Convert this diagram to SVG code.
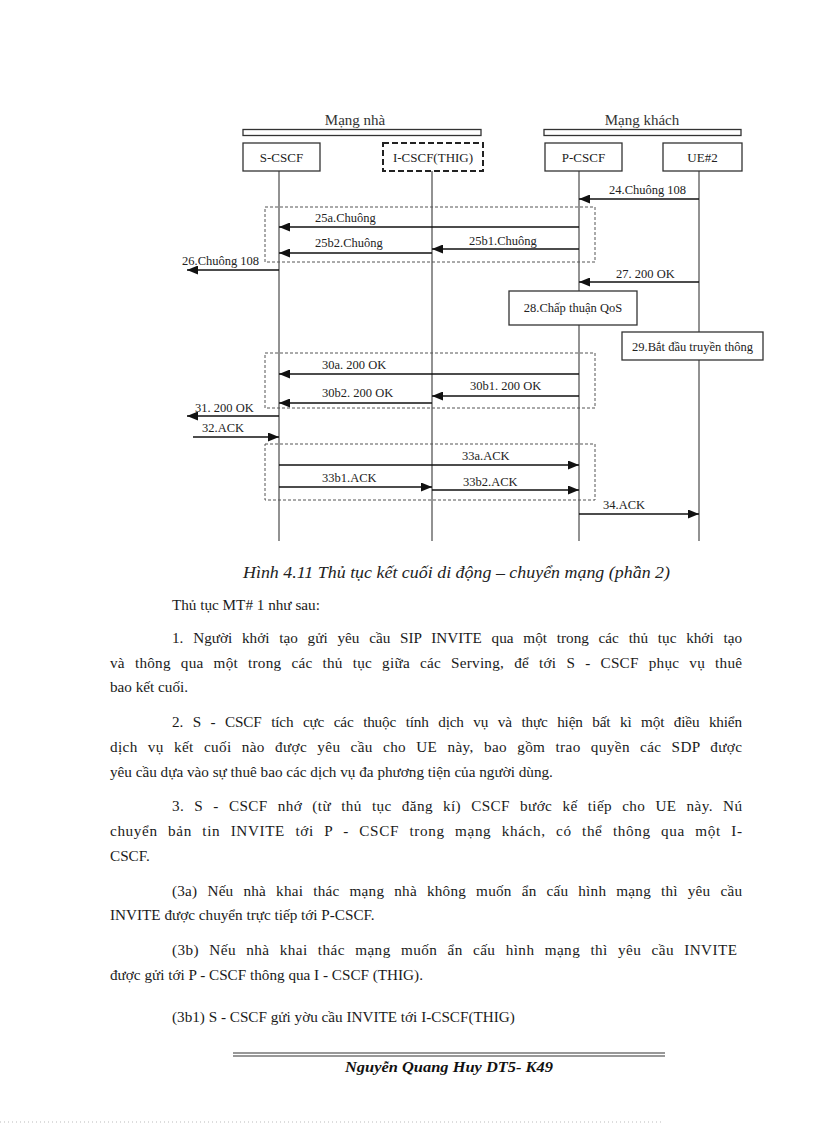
<svg xmlns="http://www.w3.org/2000/svg" width="816" height="1123" viewBox="0 0 816 1123">
<style>
.lbl{font-family:"Liberation Serif",serif;font-size:12.5px;fill:#222}
.hdr{font-family:"Liberation Serif",serif;font-size:15px;fill:#333}
.box{fill:#fff;stroke:#333;stroke-width:1.3}
.bar{fill:#fff;stroke:#333;stroke-width:1.3}
.life{stroke:#777;stroke-width:1.6;fill:none}
.msg{stroke:#111;stroke-width:1.3;fill:none;marker-end:url(#ah)}
.grp{fill:none;stroke:#555;stroke-width:1;stroke-dasharray:3,2}
.body{font-family:"Liberation Serif",serif;font-size:15.2px;fill:#1a1a1a}
.j{word-spacing:6px}
.cap{font-family:"Liberation Serif",serif;font-style:italic;font-size:16px;fill:#222}
.foot{font-family:"Liberation Serif",serif;font-style:italic;font-weight:bold;font-size:15px;fill:#111}
</style>
<defs>
<marker id="ah" markerUnits="userSpaceOnUse" markerWidth="11" markerHeight="9" refX="11" refY="4.5" orient="auto">
<path d="M0,0 L11,4.5 L0,9 z" fill="#111"/>
</marker>
</defs>
<rect width="816" height="1123" fill="#fff"/>

<g id="domains">
<text class="hdr" x="355" y="125" text-anchor="middle">Mạng nhà</text>
<rect class="bar" x="243" y="129.5" width="238" height="6"/>
<text class="hdr" x="642" y="125" text-anchor="middle">Mạng khách</text>
<rect class="bar" x="544" y="129.5" width="197" height="6"/>
</g>

<g id="lifelines">
<line class="life" x1="279" y1="171" x2="279" y2="541"/>
<line class="life" x1="432" y1="171" x2="432" y2="541"/>
<line class="life" x1="579" y1="171" x2="579" y2="541"/>
<line class="life" x1="699" y1="171" x2="699" y2="541"/>
</g>

<g id="S-CSCF">
<rect class="box" x="243" y="143" width="77" height="28"/>
<text class="lbl" x="281.5" y="161.5" text-anchor="middle" style="font-size:13px">S-CSCF</text>
</g>
<g id="I-CSCF">
<rect x="383" y="143" width="100" height="28" fill="#fff" stroke="#222" stroke-width="2" stroke-dasharray="6,3"/>
<text class="lbl" x="433" y="161.5" text-anchor="middle" style="font-size:13px">I-CSCF(THIG)</text>
</g>
<g id="P-CSCF">
<rect class="box" x="545" y="143" width="77" height="28"/>
<text class="lbl" x="583.5" y="161.5" text-anchor="middle" style="font-size:13px">P-CSCF</text>
</g>
<g id="UE2">
<rect class="box" x="663" y="143" width="79" height="28"/>
<text class="lbl" x="702.5" y="161.5" text-anchor="middle" style="font-size:13px">UE#2</text>
</g>

<g id="groups">
<rect class="grp" x="265" y="207" width="330" height="55"/>
<rect class="grp" x="265" y="353" width="330" height="55"/>
<rect class="grp" x="265" y="444" width="330" height="56"/>
</g>

<g id="connectors">
<line class="msg" x1="699" y1="199" x2="579" y2="199"/>
<line class="msg" x1="579" y1="227" x2="279" y2="227"/>
<line class="msg" x1="579" y1="249" x2="432" y2="249"/>
<line class="msg" x1="432" y1="253" x2="279" y2="253"/>
<line class="msg" x1="279" y1="270" x2="187" y2="270"/>
<line class="msg" x1="699" y1="282" x2="579" y2="282"/>
<line class="msg" x1="579" y1="374" x2="279" y2="374"/>
<line class="msg" x1="579" y1="396" x2="432" y2="396"/>
<line class="msg" x1="432" y1="403" x2="279" y2="403"/>
<line class="msg" x1="279" y1="416" x2="187" y2="416"/>
<line class="msg" x1="193" y1="437" x2="279" y2="437"/>
<line class="msg" x1="279" y1="465" x2="579" y2="465"/>
<line class="msg" x1="279" y1="487" x2="432" y2="487"/>
<line class="msg" x1="432" y1="490" x2="579" y2="490"/>
<line class="msg" x1="579" y1="514" x2="699" y2="514"/>
</g>

<g id="labels">
<text class="lbl" x="609" y="194">24.Chuông 108</text>
<text class="lbl" x="315" y="222">25a.Chuông</text>
<text class="lbl" x="469" y="245">25b1.Chuông</text>
<text class="lbl" x="315" y="247">25b2.Chuông</text>
<text class="lbl" x="182" y="265">26.Chuông 108</text>
<text class="lbl" x="616" y="278">27. 200 OK</text>
<text class="lbl" x="322" y="369">30a. 200 OK</text>
<text class="lbl" x="470" y="390">30b1. 200 OK</text>
<text class="lbl" x="322" y="397">30b2. 200 OK</text>
<text class="lbl" x="195" y="412">31. 200 OK</text>
<text class="lbl" x="202" y="432">32.ACK</text>
<text class="lbl" x="462" y="460">33a.ACK</text>
<text class="lbl" x="322" y="482">33b1.ACK</text>
<text class="lbl" x="463" y="486">33b2.ACK</text>
<text class="lbl" x="603" y="509">34.ACK</text>
</g>

<g id="QoS">
<rect class="box" x="509" y="291" width="128" height="34"/>
<text class="lbl" x="573" y="312" text-anchor="middle">28.Chấp thuận QoS</text>
</g>
<g id="media">
<rect class="box" x="622" y="332" width="141" height="28"/>
<text class="lbl" x="692.5" y="350.5" text-anchor="middle">29.Bắt đầu truyền thông</text>
</g>

<text class="cap" x="243" y="578" textLength="427" lengthAdjust="spacingAndGlyphs">Hình 4.11  Thủ tục kết cuối di động – chuyển mạng (phần 2)</text>

<g id="bodytext">
<text class="body" x="172" y="610">Thủ  tục MT# 1 như sau:</text>
<text class="body j" x="172" y="643" textLength="570" lengthAdjust="spacing">1.  Người khởi tạo gửi yêu cầu SIP INVITE  qua một trong các thủ tục khởi tạo</text>
<text class="body j" x="110" y="668" textLength="632" lengthAdjust="spacing">và thông qua một trong các thủ tục giữa các Serving, để tới S - CSCF phục vụ thuê</text>
<text class="body" x="110" y="692">bao kết cuối.</text>
<text class="body j" x="172" y="727" textLength="570" lengthAdjust="spacing">2.  S - CSCF tích cực các thuộc tính dịch vụ và thực hiện bất kì một điều khiển</text>
<text class="body j" x="110" y="752" textLength="632" lengthAdjust="spacing">dịch vụ kết cuối nào được yêu cầu cho UE này, bao gồm trao quyền các SDP được</text>
<text class="body" x="110" y="777">yêu cầu dựa vào sự thuê bao các dịch vụ đa phương tiện của người dùng.</text>
<text class="body j" x="172" y="811" textLength="570" lengthAdjust="spacing">3.  S - CSCF nhớ (từ thủ tục đăng kí) CSCF bước kế tiếp cho UE này. Nú</text>
<text class="body j" x="110" y="836" textLength="632" lengthAdjust="spacing">chuyển bản tin INVITE  tới P - CSCF trong mạng khách, có thể thông qua một I-</text>
<text class="body" x="110" y="861">CSCF.</text>
<text class="body j" x="172" y="896" textLength="570" lengthAdjust="spacing">(3a) Nếu nhà khai thác mạng nhà không muốn ẩn cấu hình mạng thì yêu cầu</text>
<text class="body" x="110" y="920">INVITE  được chuyển trực tiếp tới P-CSCF.</text>
<text class="body j" x="172" y="955" textLength="565" lengthAdjust="spacing">(3b) Nếu nhà khai thác mạng muốn ẩn cấu hình mạng thì yêu cầu INVITE</text>
<text class="body" x="110" y="980">được gửi tới P - CSCF thông qua I - CSCF (THIG).</text>
<text class="body" x="172" y="1022">(3b1) S - CSCF gửi yờu cầu INVITE  tới I-CSCF(THIG)</text>
</g>

<g id="footer">
<line x1="233" y1="1053" x2="665" y2="1053" stroke="#333" stroke-width="1.2"/>
<line x1="233" y1="1056" x2="665" y2="1056" stroke="#333" stroke-width="1.2"/>
<text class="foot" x="345" y="1072" textLength="208" lengthAdjust="spacingAndGlyphs">Nguyễn Quang Huy DT5- K49</text>
<line x1="0" y1="1122" x2="663" y2="1122" stroke="#bbb" stroke-width="1" stroke-dasharray="1,3"/>
</g>
</svg>
